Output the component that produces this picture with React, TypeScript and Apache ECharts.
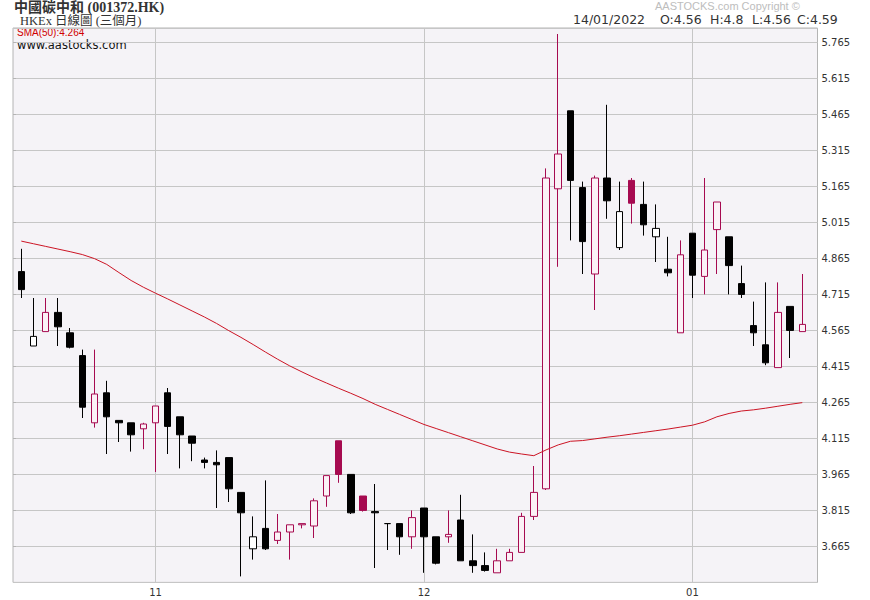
import React, { useEffect, useRef } from "react";
import * as echarts from "echarts";

const dates = [
  "2021-10-15","2021-10-18","2021-10-19","2021-10-20","2021-10-21","2021-10-22","2021-10-25","2021-10-26","2021-10-27","2021-10-28","2021-10-29",
  "2021-11-01","2021-11-02","2021-11-03","2021-11-04","2021-11-05","2021-11-08","2021-11-09","2021-11-10","2021-11-11","2021-11-12","2021-11-15","2021-11-16","2021-11-17","2021-11-18","2021-11-19","2021-11-22","2021-11-23","2021-11-24","2021-11-25","2021-11-26","2021-11-29","2021-11-30",
  "2021-12-01","2021-12-02","2021-12-03","2021-12-06","2021-12-07","2021-12-08","2021-12-09","2021-12-10","2021-12-13","2021-12-14","2021-12-15","2021-12-16","2021-12-17","2021-12-20","2021-12-21","2021-12-22","2021-12-23","2021-12-24","2021-12-28","2021-12-29","2021-12-30","2021-12-31",
  "2022-01-03","2022-01-04","2022-01-05","2022-01-06","2022-01-07","2022-01-10","2022-01-11","2022-01-12","2022-01-13","2022-01-14",
];

const opens = [
  4.81, 4.50, 4.56, 4.64, 4.555, 4.46, 4.18, 4.305, 4.19, 4.18,
  4.155, 4.18, 4.305, 4.205, 4.125, 4.025, 4.015, 4.035, 3.89, 3.655,
  3.74, 3.69, 3.725, 3.755, 3.75, 3.875, 4.105, 3.965, 3.875, 3.81,
  3.76, 3.76, 3.705, 3.825, 3.705, 3.705, 3.775, 3.605, 3.585, 3.555,
  3.605, 3.64, 3.79, 3.905, 5.155, 5.48, 5.16, 4.80, 5.20, 4.91,
  5.19, 5.09, 4.955, 4.82, 4.555, 4.97, 4.79, 4.985, 4.955, 4.76,
  4.585, 4.505, 4.41, 4.665, 4.56,
];

const closes = [
  4.735, 4.54, 4.64, 4.58, 4.495, 4.245, 4.30, 4.205, 4.18, 4.13,
  4.175, 4.25, 4.165, 4.13, 4.095, 4.015, 4.005, 3.905, 3.805, 3.705,
  3.655, 3.725, 3.755, 3.76, 3.855, 3.96, 3.965, 3.805, 3.815, 3.805,
  3.76, 3.705, 3.785, 3.705, 3.595, 3.715, 3.605, 3.585, 3.565, 3.605,
  3.64, 3.79, 3.89, 5.20, 5.30, 5.19, 4.935, 5.20, 5.105, 5.06,
  5.095, 5.005, 4.99, 4.805, 4.88, 4.795, 4.90, 5.10, 4.835, 4.715,
  4.555, 4.43, 4.64, 4.565, 4.59,
];

const lows = [
  4.70, 4.50, 4.56, 4.50, 4.49, 4.20, 4.16, 4.05, 4.10, 4.06,
  4.07, 3.975, 4.05, 3.99, 4.02, 3.99, 3.825, 3.85, 3.54, 3.61,
  3.65, 3.675, 3.61, 3.74, 3.70, 3.83, 3.93, 3.80, 3.81, 3.575,
  3.65, 3.63, 3.655, 3.555, 3.59, 3.68, 3.605, 3.555, 3.56, 3.555,
  3.605, 3.64, 3.775, 3.90, 4.83, 4.94, 4.80, 4.65, 5.03, 4.90,
  5.01, 4.96, 4.85, 4.79, 4.555, 4.70, 4.715, 4.80, 4.715, 4.70,
  4.50, 4.42, 4.41, 4.45, 4.56,
];

const highs = [
  4.905, 4.70, 4.70, 4.70, 4.575, 4.485, 4.485, 4.355, 4.19, 4.18,
  4.18, 4.25, 4.325, 4.205, 4.125, 4.035, 4.065, 4.035, 3.89, 3.79,
  3.94, 3.80, 3.755, 3.76, 3.865, 3.96, 4.105, 3.965, 3.875, 3.925,
  3.76, 3.76, 3.815, 3.825, 3.705, 3.815, 3.88, 3.715, 3.64, 3.655,
  3.655, 3.805, 4.00, 5.24, 5.80, 5.48, 5.185, 5.21, 5.505, 5.185,
  5.20, 5.185, 5.09, 4.955, 4.94, 4.97, 5.20, 5.10, 4.955, 4.835,
  4.685, 4.765, 4.765, 4.665, 4.80,
];

const sma50 = [
  4.937, 4.926, 4.915, 4.904, 4.893, 4.881, 4.864, 4.840, 4.806, 4.773,
  4.745, 4.720, 4.696, 4.671, 4.646, 4.621, 4.594, 4.564, 4.536, 4.506,
  4.475, 4.445, 4.417, 4.392, 4.368, 4.346, 4.324, 4.303, 4.281, 4.257,
  4.236, 4.215, 4.194, 4.173, 4.156, 4.139, 4.122, 4.105, 4.088, 4.071,
  4.058, 4.050, 4.043, 4.067, 4.088, 4.103, 4.106, 4.113, 4.120, 4.126,
  4.133, 4.140, 4.147, 4.154, 4.162, 4.170, 4.184, 4.205, 4.219, 4.229,
  4.234, 4.241, 4.249, 4.257, 4.264,
];

const titleText = "中國碳中和 (001372.HK)";
const subtitleText = "HKEx 日線圖 (三個月)";
const smaLabel = "SMA(50):4.264";
const siteText = "www.aastocks.com";
const copyrightText = "AASTOCKS.com Copyright ©";
const quoteParts = ["14/01/2022", "O:4.56", "H:4.8", "L:4.56", "C:4.59"];

const UP = "#a60a50";
const DOWN = "#000000";
const BG = "#f5f3f7";
const GRID = "#c6c6c6";
const BORDER = "#b4b4b4";

export default function App() {
  const ref = useRef<HTMLDivElement>(null);
  useEffect(() => {
    if (!ref.current) return;
    const chart = echarts.init(ref.current, null, { renderer: "svg" });

    const isMonthStart = (i: number) =>
      i > 0 && dates[i].slice(0, 7) !== dates[i - 1].slice(0, 7);

    const candleData = dates.map((_, i) => {
      const o = opens[i];
      const c = closes[i];
      const prev = i > 0 ? closes[i - 1] : c;
      const dir = c > prev ? UP : DOWN;
      const hollowFill = dir === UP ? "#fbf1f6" : "#ffffff";
      const fill = c > o ? hollowFill : dir;
      return {
        value: [o, c, lows[i], highs[i]],
        itemStyle: { color: fill, color0: fill, borderColor: dir, borderColor0: dir, borderWidth: 1 },
      };
    });

    const quoteX = [573, 660, 710, 752, 797];

    chart.setOption({
      animation: false,
      backgroundColor: "#ffffff",
      textStyle: { fontFamily: "DejaVu Sans" },
      grid: [
        { left: 13, right: 52.5, top: 28, bottom: 17.6, show: true, backgroundColor: BG, borderColor: BORDER, borderWidth: 1 },
        { left: 21.3, right: 67.7, top: 28, bottom: 17.6 },
      ],
      xAxis: [
        { gridIndex: 0, type: "value", min: 0, max: 1, show: false },
        {
          gridIndex: 1,
          type: "category",
          data: dates,
          boundaryGap: false,
          axisLine: { show: false },
          axisTick: { show: false },
          axisLabel: {
            interval: (i: number) => isMonthStart(i),
            formatter: (v: string) => v.slice(5, 7),
            color: "#333",
            fontSize: 10,
            fontFamily: "DejaVu Sans",
            margin: 5,
          },
          splitLine: {
            show: true,
            interval: (i: number) => isMonthStart(i),
            lineStyle: { color: GRID, width: 1 },
          },
        },
      ],
      yAxis: [
        {
          gridIndex: 0,
          type: "value",
          position: "right",
          min: 3.515,
          max: 5.825,
          interval: 0.15,
          axisLine: { show: false },
          axisTick: { show: true, length: 3, lineStyle: { color: BORDER } },
          axisLabel: {
            showMinLabel: false,
            showMaxLabel: false,
            formatter: (v: number) => v.toFixed(3),
            color: "#333",
            fontSize: 10,
            fontFamily: "DejaVu Sans",
            margin: 4,
          },
          splitLine: { show: true, lineStyle: { color: GRID, width: 1 } },
        },
        { gridIndex: 1, type: "value", min: 3.515, max: 5.825, show: false },
      ],
      series: [
        {
          type: "candlestick",
          xAxisIndex: 1,
          yAxisIndex: 1,
          data: candleData,
          barWidth: 7,
          clip: false,
          z: 3,
        },
        {
          type: "line",
          xAxisIndex: 1,
          yAxisIndex: 1,
          data: sma50,
          symbol: "none",
          showSymbol: false,
          lineStyle: { color: "#cc1424", width: 1 },
          z: 4,
        },
      ],
      graphic: [
        {
          type: "text",
          x: 14,
          y: 7,
          style: { text: titleText, font: 'bold 14px "Liberation Serif", "Noto Sans CJK TC", serif', fill: "#333", verticalAlign: "middle" },
        },
        {
          type: "text",
          x: 20,
          y: 21,
          style: { text: subtitleText, font: '12.5px "Liberation Serif", "Noto Sans CJK TC", serif', fill: "#333", verticalAlign: "middle" },
        },
        {
          type: "text",
          x: 17,
          y: 32.5,
          style: { text: smaLabel, font: '10px "Liberation Sans"', fill: "#d00000", verticalAlign: "middle" },
        },
        {
          type: "text",
          x: 17,
          y: 45,
          style: { text: siteText, font: '11.5px "DejaVu Sans"', fill: "#111", verticalAlign: "middle" },
        },
        {
          type: "text",
          x: 655,
          y: 5.5,
          style: { text: copyrightText, font: '11px "Liberation Sans"', fill: "#bdbdbd", verticalAlign: "middle" },
        },
        ...quoteParts.map((t, k) => ({
          type: "text",
          x: quoteX[k],
          y: 19.5,
          style: { text: t, font: '12.5px "DejaVu Sans"', fill: "#333", verticalAlign: "middle" },
        })),
      ],
    });
    return () => chart.dispose();
  }, []);
  return (
    <div
      ref={ref}
      style={{ position: "absolute", left: 0, top: 0, width: 870, height: 600, background: "#fff" }}
    />
  );
}
